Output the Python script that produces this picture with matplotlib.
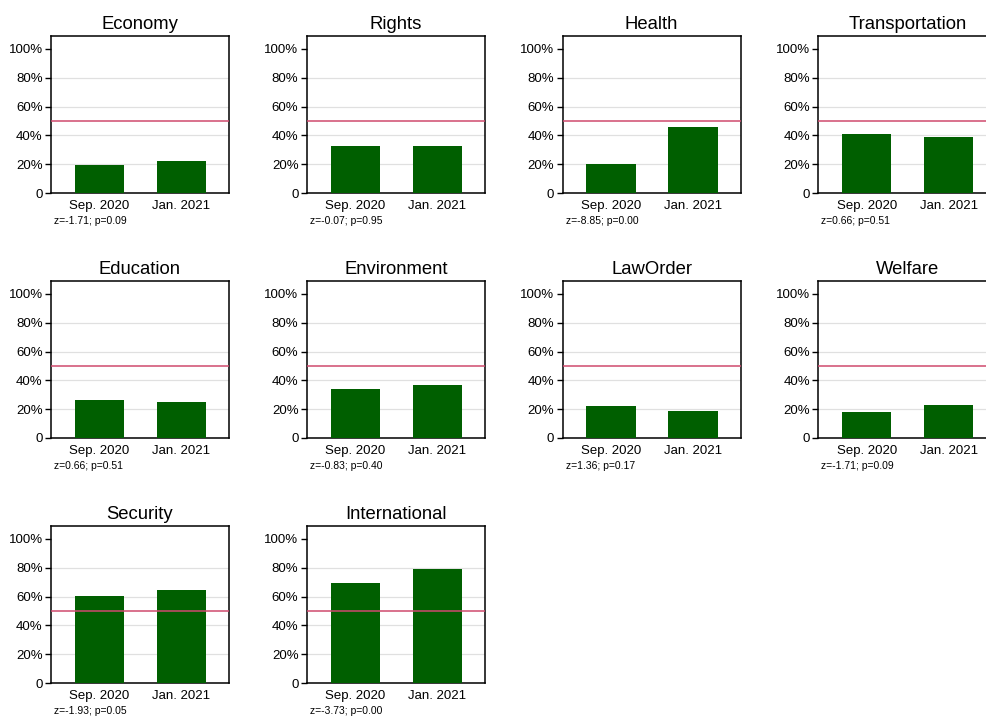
import numpy as np
import matplotlib.pyplot as plt
from matplotlib.ticker import FuncFormatter

plt.rcParams['font.family'] = ['Liberation Sans', 'DejaVu Sans']

# share of responses per policy area, two survey waves
topics = ['Economy', 'Rights', 'Health', 'Transportation',
          'Education', 'Environment', 'LawOrder', 'Welfare',
          'Security', 'International']
waves = ['Sep. 2020', 'Jan. 2021']
sep2020 = [0.194, 0.323, 0.201, 0.408, 0.263, 0.342, 0.219, 0.183, 0.604, 0.692]
jan2021 = [0.224, 0.323, 0.458, 0.391, 0.247, 0.368, 0.185, 0.229, 0.646, 0.794]
z_vals = ['-1.71', '-0.07', '-8.85', '0.66', '0.66', '-0.83', '1.36', '-1.71', '-1.93', '-3.73']
p_vals = ['0.09', '0.95', '0.00', '0.51', '0.51', '0.40', '0.17', '0.09', '0.05', '0.00']
ref_line = 0.5

W, H = 987, 717
fig = plt.figure(figsize=(W / 100, H / 100), dpi=100)

x = np.arange(len(waves))
for i, name in enumerate(topics):
    r, c = divmod(i, 4)
    left = 51 + 255.8 * c
    top = 36 + 245 * r
    ax = fig.add_axes([left / W, 1 - (top + 157) / H, 178 / W, 157 / H])
    ax.bar(x, [sep2020[i], jan2021[i]], width=0.6, color='#005f00', zorder=3)
    ax.axhline(ref_line, color='#cf4a6e', lw=1.1, zorder=4)
    ax.set_xlim(-0.59, 1.58)
    ax.set_ylim(0, 1.09)
    ax.set_yticks([0, 0.2, 0.4, 0.6, 0.8, 1.0])
    ax.yaxis.set_major_formatter(FuncFormatter(lambda v, pos: '0' if v == 0 else '%d%%' % round(v * 100)))
    ax.set_xticks(x)
    ax.set_xticklabels(waves)
    ax.tick_params(axis='x', length=0, pad=5, labelsize=9.5)
    ax.tick_params(axis='y', length=4, width=1, pad=2, labelsize=9.5)
    ax.grid(axis='y', color='#e0e0e0', lw=0.9, zorder=0)
    # no grid line at the top tick
    ax.yaxis.get_gridlines()[-1].set_visible(False)
    for s in ax.spines.values():
        s.set_linewidth(1.1)
        s.set_color('black')
    ax.set_title(name, fontsize=13.3, pad=5)
    ax.text(0.017, -0.18, 'z=%s; p=%s' % (z_vals[i], p_vals[i]),
            transform=ax.transAxes, fontsize=7.5, ha='left', va='center')

fig.savefig('out.png', dpi=100)
